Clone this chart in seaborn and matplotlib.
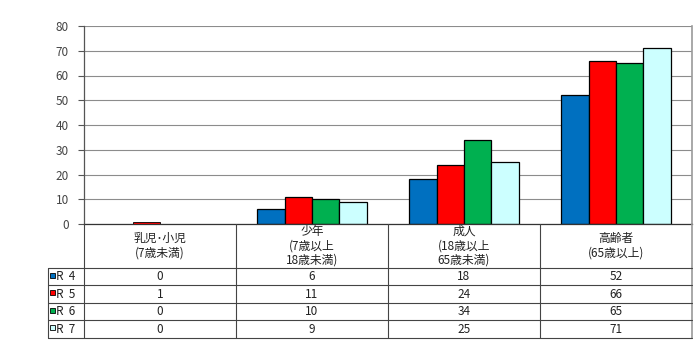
import numpy as np
import pandas as pd
import matplotlib
matplotlib.use('Agg')
import matplotlib.pyplot as plt
import seaborn as sns

# data
groups = ['乳児･小児\n(7歳未満)', '少年\n(7歳以上\n18歳未満)',
          '成人\n(18歳以上\n65歳未満)', '高齢者\n(65歳以上)']
years = ['R  4', 'R  5', 'R  6', 'R  7']
r4 = [0, 6, 18, 52]
r5 = [1, 11, 24, 66]
r6 = [0, 10, 34, 65]
r7 = [0, 9, 25, 71]
colors = ['#0070C0', '#FF0000', '#00B050', '#CCFFFF']
yticks = [0, 10, 20, 30, 40, 50, 60, 70, 80]

series = [r4, r5, r6, r7]
df = pd.DataFrame({
    'group': [g for _ in years for g in groups],
    'year': [y for y in years for _ in groups],
    'value': [v for s in series for v in s],
})

sns.set_theme(style='white')
plt.rcParams['font.family'] = ['Noto Sans CJK JP', 'DejaVu Sans']

W, H = 700, 355
fig = plt.figure(figsize=(7, 3.55), dpi=100)
fig.patch.set_facecolor('white')

# plot area in pixel terms
left, right, top, bottom = 84, 692, 26, 224
ax = fig.add_axes([left / W, 1 - bottom / H, (right - left) / W, (bottom - top) / H])

sns.barplot(data=df, x='group', y='value', hue='year', order=groups, hue_order=years,
            palette=colors, saturation=1, width=0.72, edgecolor='black', linewidth=0.9,
            legend=False, ax=ax)
# Excel draws nothing for zero values
for p in ax.patches:
    if p.get_height() == 0:
        p.set_visible(False)
    elif p.get_height() < 2:
        p.set_linewidth(0.6)

ax.set_xlim(-0.5, 3.5)
ax.set_ylim(0, 80)
ax.set_yticks(yticks)
ax.set_yticklabels([str(t) for t in yticks], fontsize=8.5, color='#444444')
ax.tick_params(axis='y', length=4, width=0.8, color='#555555', pad=7, left=True)
ax.set_xticks([])
ax.set_xlabel('')
ax.set_ylabel('')
ax.yaxis.grid(True, color='#8c8c8c', linewidth=0.8)
ax.set_axisbelow(True)
ax.spines['top'].set_visible(False)
ax.spines['left'].set_color('#555555')
ax.spines['left'].set_linewidth(0.9)
ax.spines['right'].set_color('#9a9a9a')
ax.spines['right'].set_linewidth(1.2)
ax.spines['bottom'].set_color('#333333')
ax.spines['bottom'].set_linewidth(0.9)

# data table below
tbottom = 338
tax = fig.add_axes([left / W, 1 - tbottom / H, (right - left) / W, (tbottom - bottom) / H])
tax.set_xlim(-0.5, 3.5)
tax.set_ylim(tbottom, bottom)
tax.axis('off')

header_bottom = 268
row_lines = [268, 285.5, 303, 320.5, 338]
col_w = (right - left) / 4
label_left = -0.5 - 36 / col_w
line_kw = dict(color='#444444', linewidth=0.8, clip_on=False)

# vertical lines
for xv in [-0.5, 0.5, 1.5, 2.5]:
    tax.plot([xv, xv], [bottom, tbottom], **line_kw)
tax.plot([3.5, 3.5], [bottom, tbottom], color='#9a9a9a', linewidth=1.2, clip_on=False)
tax.plot([label_left, label_left], [header_bottom, tbottom], **line_kw)
for yv in row_lines:
    tax.plot([label_left, 3.5], [yv, yv], **line_kw)

# header labels
for i, g in enumerate(groups):
    tax.text(i, (bottom + header_bottom) / 2, g, ha='center', va='center',
             fontsize=8.5, linespacing=1.15, color='#222222')

# data rows
box_w = 5 / col_w
for r, (yr, vals, c) in enumerate(zip(years, series, colors)):
    yc = (row_lines[r] + row_lines[r + 1]) / 2
    tax.add_patch(plt.Rectangle((label_left + 2 / col_w, yc - 4), box_w, 5,
                                facecolor=c, edgecolor='black', linewidth=0.6,
                                clip_on=False))
    tax.text(label_left + 8 / col_w, yc, yr, ha='left', va='center',
             fontsize=8.5, color='#222222')
    for i, v in enumerate(vals):
        tax.text(i, yc, str(v), ha='center', va='center', fontsize=8.5, color='#222222')

fig.savefig('out.png', dpi=100, facecolor='white')
